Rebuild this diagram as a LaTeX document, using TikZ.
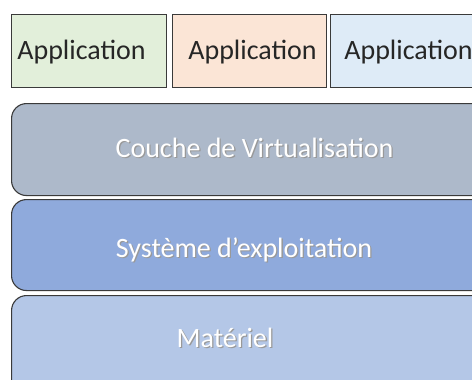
\documentclass[tikz,border=0pt]{standalone}
\usepackage{fontspec}
\setmainfont{Carlito}
\definecolor{appgreen}{HTML}{E2EFDA}
\definecolor{apppeach}{HTML}{FBE5D6}
\definecolor{appblue}{HTML}{DEEBF7}
\definecolor{layervirt}{HTML}{ADB9CA}
\definecolor{layeros}{HTML}{8FAADC}
\definecolor{layerhw}{HTML}{B4C7E7}
\definecolor{edge}{HTML}{3A3A3A}
\definecolor{apptext}{HTML}{262626}
\newcommand\shadowed[1]{\makebox[0pt][l]{\hspace{1.3pt}\raisebox{-1.3pt}{\textcolor{black!40}{#1}}}\textcolor{white}{#1}}
\begin{document}
\begin{tikzpicture}[x=1pt,y=-1pt,
  appbox/.style={draw=edge,line width=1.1pt,anchor=north west,inner sep=0pt},
  layerbox/.style={draw=edge,line width=1.1pt,rounded corners=15pt,anchor=north west,inner sep=0pt},
  applabel/.style={anchor=base,inner sep=0pt,text=apptext,font=\fontsize{28}{32}\selectfont},
  layerlabel/.style={anchor=base,inner sep=0pt,font=\fontsize{28}{32}\selectfont}]
\useasboundingbox (0,0) rectangle (472,380);
\clip (0,0) rectangle (472,380);
% application boxes
\node[appbox,fill=appgreen,minimum width=155pt,minimum height=73pt] (app1) at (11,14) {};
\node[appbox,fill=apppeach,minimum width=154pt,minimum height=73pt] (app2) at (172,14) {};
\node[appbox,fill=appblue,minimum width=160pt,minimum height=73pt] (app3) at (330,14) {};
\node[applabel] (t1) at (81.5,59) {Application};
\node[applabel] (t2) at (252.5,59) {Application};
\node[applabel] (t3) at (408.5,59) {Application};
% stacked layers
\node[layerbox,fill=layervirt,minimum width=520pt,minimum height=92pt] (virt) at (11,103) {};
\node[layerbox,fill=layeros,minimum width=520pt,minimum height=91pt] (os) at (11,199) {};
\node[layerbox,fill=layerhw,minimum width=520pt,minimum height=110pt] (hw) at (11,295) {};
\node[layerlabel] (lv) at (254.5,157) {\shadowed{Couche de Virtualisation}};
\node[layerlabel] (lo) at (244,257) {\shadowed{Système d’exploitation}};
\node[layerlabel] (lh) at (225,347) {\shadowed{Matériel}};
\end{tikzpicture}
\end{document}
